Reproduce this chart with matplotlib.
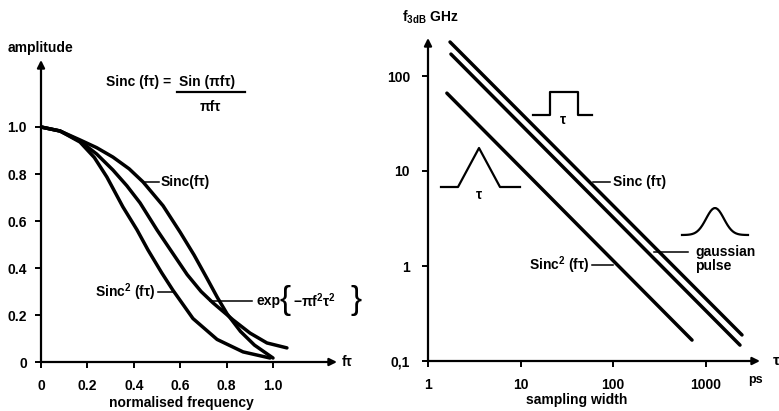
import numpy as np
import matplotlib
matplotlib.use('Agg')
import matplotlib.pyplot as plt
from matplotlib.lines import Line2D

plt.rcParams['font.family'] = ['Liberation Sans', 'DejaVu Sans']
plt.rcParams['font.weight'] = 'bold'
plt.rcParams['mathtext.fontset'] = 'custom'
plt.rcParams['mathtext.rm'] = 'Liberation Sans:bold'
plt.rcParams['mathtext.it'] = 'Liberation Sans:bold'
plt.rcParams['mathtext.bf'] = 'Liberation Sans:bold'

# === Left panel: normalised spectra ===
sinc_x = [0, 0.082, 0.168, 0.24, 0.31, 0.38, 0.44, 0.526, 0.6, 0.66, 0.716, 0.76, 0.802, 0.86, 0.92, 1.0]
sinc_y = [1.0, 0.983, 0.945, 0.912, 0.872, 0.822, 0.766, 0.665, 0.552, 0.455, 0.355, 0.275, 0.205, 0.13, 0.072, 0.017]

gauss_x = [0, 0.082, 0.168, 0.24, 0.31, 0.37, 0.427, 0.5, 0.556, 0.63, 0.69, 0.741, 0.828, 0.901, 0.974, 1.06]
gauss_y = [1.0, 0.983, 0.94, 0.885, 0.817, 0.75, 0.677, 0.562, 0.48, 0.372, 0.3, 0.252, 0.179, 0.123, 0.081, 0.06]

sinc2_x = [0, 0.082, 0.168, 0.23, 0.284, 0.353, 0.414, 0.461, 0.52, 0.569, 0.655, 0.759, 0.871, 0.987]
sinc2_y = [1.0, 0.983, 0.936, 0.87, 0.787, 0.66, 0.562, 0.477, 0.38, 0.305, 0.185, 0.096, 0.043, 0.017]

lin_ticks = [0, 0.2, 0.4, 0.6, 0.8, 1.0]
lin_labels = ['0', '0.2', '0.4', '0.6', '0.8', '1.0']

# === Right panel: f3dB vs sampling width (end points of each line) ===
width_sinc = [1.73, 2480]
f3db_sinc = [228, 0.188]
width_gauss = [1.77, 2360]
f3db_gauss = [170, 0.147]
width_sinc2 = [1.60, 715]
f3db_sinc2 = [66, 0.166]

log_xticks = [1, 10, 100, 1000]
log_xlabels = ['1', '10', '100', '1000']
log_yticks = [0.1, 1, 10, 100]
log_ylabels = ['0,1', '1', '10', '100']

W, H = 779, 411
fig = plt.figure(figsize=(W / 100, H / 100), dpi=100)
FS = 10


def px(x, y):
    # pixel position -> figure fraction
    return x / W, 1 - y / H


def frame(ax):
    for s in ax.spines.values():
        s.set_visible(False)
    for end in [(0, 1), (1, 0)]:
        ax.annotate('', xy=end, xycoords='axes fraction', xytext=(0, 0),
                    arrowprops=dict(arrowstyle='-|>', lw=1.6, color='k',
                                    mutation_scale=11, shrinkA=0, shrinkB=0))
    ax.tick_params(direction='out', length=4, width=1.4, labelsize=FS)


lw = 2.5
curve = dict(color='k', lw=lw, solid_capstyle='round', solid_joinstyle='round')

# ---- left ----
ax1 = fig.add_axes([41 / W, (H - 362) / H, (337 - 41) / W, (362 - 60) / H])
ax1.set_xlim(0, (337 - 41) / 232)
ax1.set_ylim(0, (362 - 60) / 235)
frame(ax1)
ax1.set_xticks(lin_ticks)
ax1.set_xticklabels(lin_labels)
ax1.set_yticks(lin_ticks)
ax1.set_yticklabels(lin_labels)
ax1.tick_params(axis='x', pad=8)
ax1.tick_params(axis='y', pad=6)

ax1.plot(sinc_x, sinc_y, **curve)
ax1.plot(gauss_x, gauss_y, **curve)
ax1.plot(sinc2_x, sinc2_y, **curve)

ax1.plot([0.45, 0.51], [0.766, 0.766], color='k', lw=1.1)
ax1.text(0.515, 0.766, 'Sinc(fτ)', fontsize=FS, va='center', ha='left')
ax1.plot([0.505, 0.569], [0.298, 0.298], color='k', lw=1.1)
ax1.text(0.495, 0.298, 'Sinc$^\\mathregular{2}$ (fτ)', fontsize=FS, va='center', ha='right')
ax1.plot([0.728, 0.909], [0.26, 0.26], color='k', lw=1.1)
ax1.text(0.93, 0.26, 'exp', fontsize=FS, va='center', ha='left')
ax1.text(1.05, 0.26, '{', fontsize=24, va='center', ha='center', fontweight='normal')
ax1.text(1.085, 0.26, '−πf$^\\mathregular{2}$τ$^\\mathregular{2}$', fontsize=FS, va='center', ha='left')
ax1.text(1.36, 0.26, '}', fontsize=24, va='center', ha='center', fontweight='normal')

fig.text(*px(8, 48), 'amplitude', fontsize=FS, va='center', ha='left')
fig.text(*px(106, 82), 'Sinc (fτ) =', fontsize=FS, va='center', ha='left')
fig.text(*px(179, 82), 'Sin (πfτ)', fontsize=FS, va='center', ha='left')
fig.add_artist(Line2D([177 / W, 245 / W], [1 - 92 / H, 1 - 92 / H], color='k', lw=1.6))
fig.text(*px(210, 107), 'πfτ', fontsize=FS, va='center', ha='center')
fig.text(*px(342, 362), 'fτ', fontsize=FS, va='center', ha='left')
fig.text(*px(181, 403), 'normalised frequency', fontsize=FS, va='center', ha='center')

# ---- right ----
ax2 = fig.add_axes([428 / W, (H - 361) / H, (760 - 428) / W, (361 - 38) / H])
ax2.set_xscale('log')
ax2.set_yscale('log')
ax2.set_xlim(1, 10 ** ((760 - 428) / 92.5))
ax2.set_ylim(0.1, 10 ** (-1 + (361 - 38) / 95))
frame(ax2)
ax2.set_xticks(log_xticks)
ax2.set_xticklabels(log_xlabels)
ax2.set_yticks(log_yticks)
ax2.set_yticklabels(log_ylabels)
ax2.minorticks_off()
ax2.tick_params(axis='x', pad=8)
ax2.tick_params(axis='y', pad=9)

ax2.plot(width_sinc, f3db_sinc, **curve)
ax2.plot(width_gauss, f3db_gauss, **curve)
ax2.plot(width_sinc2, f3db_sinc2, **curve)

ax2.plot([61, 93], [7.66, 7.66], color='k', lw=1.1)
ax2.text(100, 7.66, 'Sinc (fτ)', fontsize=FS, va='center', ha='left')
ax2.plot([275, 650], [1.40, 1.40], color='k', lw=1.1)
ax2.text(770, 1.40, 'gaussian', fontsize=FS, va='center', ha='left')
ax2.text(770, 1.40 * 10 ** (-14 / 95), 'pulse', fontsize=FS, va='center', ha='left')
ax2.plot([59, 100], [1.03, 1.03], color='k', lw=1.1)
ax2.text(55, 1.03, 'Sinc$^\\mathregular{2}$ (fτ)', fontsize=FS, va='center', ha='right')

fig.text(*px(402, 17), 'f$_\\mathregular{3dB}$ GHz', fontsize=FS, va='center', ha='left')
fig.text(*px(748, 380), 'ps', fontsize=9, va='center', ha='left')
fig.text(*px(773, 361), 'τ', fontsize=11, va='center', ha='left')
fig.text(*px(577, 400), 'sampling width', fontsize=FS, va='center', ha='center')

# pulse shape icons
rect = [(533, 115), (550, 115), (550, 92), (578, 92), (578, 115), (592, 115)]
tri = [(441, 187), (458, 187), (479, 148), (500, 187), (520, 187)]
bx = np.linspace(-1, 1, 40)
bell = [(715 + 33 * t, 235 - 27 * np.exp(-(t / 0.38) ** 2)) for t in bx]
for shape in (rect, tri, bell):
    xs, ys = zip(*[px(a, b) for a, b in shape])
    fig.add_artist(Line2D(xs, ys, color='k', lw=1.6))
fig.text(*px(563, 120), 'τ', fontsize=FS, va='center', ha='center')
fig.text(*px(479, 195), 'τ', fontsize=FS, va='center', ha='center')

fig.savefig('out.png', dpi=100)
